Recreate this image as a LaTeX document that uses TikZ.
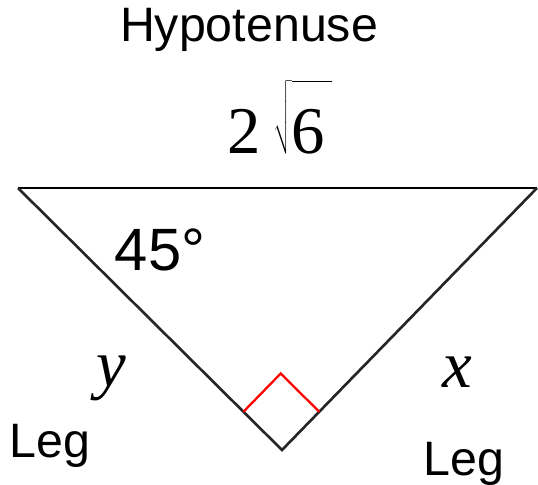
\documentclass[tikz,border=0pt]{standalone}
\usepackage{fontspec}
\setmainfont{Liberation Sans}
\newfontfamily\timesfont{Liberation Serif}
\usetikzlibrary{calc}

\begin{document}
\begin{tikzpicture}[x=0.02cm, y=-0.02cm,
			seite/.style={line width=1.5pt, color=black!85},
			winkel/.style={line width=1.3pt, color=red},
			beschr/.style={inner sep=0pt, anchor=base, font=\fontsize{27.5}{32}\selectfont},
			var/.style={inner sep=0pt, anchor=base, font=\fontsize{38}{44}\timesfont\itshape}]
			\useasboundingbox (0,0) rectangle (538,484);
			% Eckpunkte
			\coordinate (A) at (18,188);
			\coordinate (B) at (537,188);
			\coordinate (C) at (282,450);
			% Dreieck zeichnen
			\draw[line width=1.7pt] (A) -- (B);
			\draw[seite] (A) -- (C) -- (B);
			% rechter Winkel
			\coordinate (W1) at ($(C)!0.146!(A)$);
			\coordinate (W2) at ($(C)!0.146!(B)$);
			\draw[winkel] (W1) -- ($(W1)+(W2)-(C)$) -- (W2);
			% Beschriftung
			\node[beschr] (hyp) at (249,41) {Hypotenuse};
			\node[var, font=\fontsize{38}{44}\timesfont] (laenge) at (280,153) {$\hbox{2}\;\sqrt{\rule{0pt}{1.05em}\hbox{6}\,}$};
			\node[beschr, font=\fontsize{34}{40}\selectfont] (alpha) at (160,270) {45°};
			\node[var] (y) at (111,386) {y};
			\node[var] (x) at (457,387) {x};
			\node[beschr] (leg1) at (50,457) {Leg};
			\node[beschr] (leg2) at (464,475) {Leg};
		\end{tikzpicture}
\end{document}
